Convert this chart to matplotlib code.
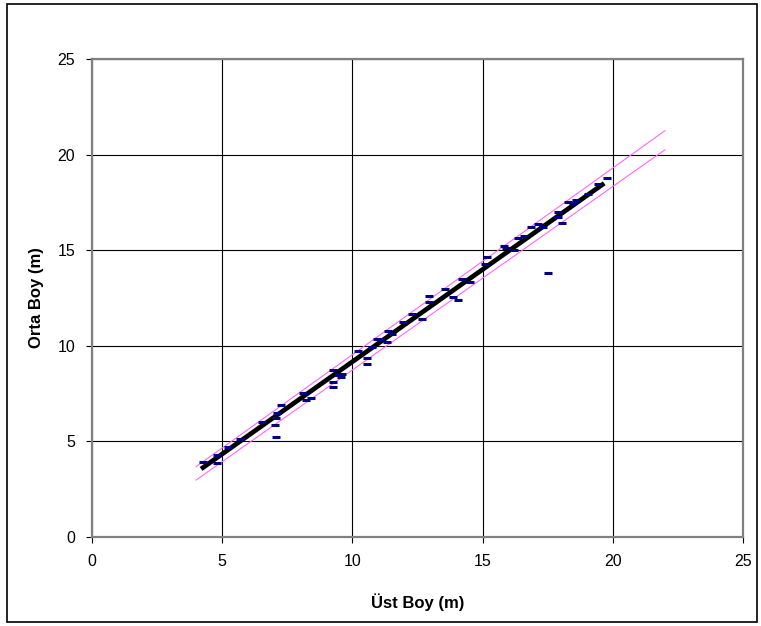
import matplotlib
matplotlib.use("Agg")
import matplotlib.pyplot as plt
from matplotlib.patches import Rectangle

plt.rcParams['font.family'] = ['Liberation Sans', 'DejaVu Sans']

# measured points (Üst Boy, Orta Boy)
ust_boy = [4.27, 4.81, 4.79, 5.21, 5.68, 6.52, 7.09, 7.05, 7.03, 7.07,
           7.26, 8.12, 8.20, 8.41, 9.27, 9.24, 9.24, 9.46, 9.59, 9.56,
           10.20, 10.55, 10.55, 10.74, 10.93, 11.06, 11.32, 11.38, 11.51, 11.96,
           12.28, 12.69, 12.94, 12.94, 13.56, 13.88, 14.04, 14.20, 14.52, 15.16,
           15.09, 15.82, 15.90, 16.22, 16.37, 16.60, 16.86, 17.14, 17.33, 17.52,
           17.88, 18.06, 17.88, 18.29, 18.48, 18.60, 19.06, 19.42, 19.76]
orta_boy = [3.91, 3.85, 4.29, 4.69, 5.11, 6.03, 6.47, 6.21, 5.84, 5.23,
            6.90, 7.55, 7.17, 7.29, 8.73, 8.09, 7.83, 8.47, 8.53, 8.35,
            9.73, 9.38, 9.03, 9.95, 10.36, 10.38, 10.18, 10.79, 10.62, 11.23,
            11.66, 11.42, 12.60, 12.31, 12.95, 12.57, 12.40, 13.48, 13.35, 14.63,
            14.28, 15.24, 15.10, 15.01, 15.65, 15.76, 16.20, 16.35, 16.20, 13.79,
            17.01, 16.44, 16.75, 17.50, 17.45, 17.60, 17.92, 18.46, 18.76]

# regression line and band lines
reg_x = [4.19, 19.67]
reg_y = [3.56, 18.50]
band_x = [4.0, 22.0]
upper_y = [3.68, 21.25]
lower_y = [2.98, 20.25]

ticks = [0, 5, 10, 15, 20, 25]

fig = plt.figure(figsize=(7.61, 6.26), dpi=100)
ax = fig.add_axes([92 / 761, 1 - 537 / 626, 651 / 761, 478 / 626])

ax.plot(band_x, upper_y, color='#ff66ff', lw=0.8, zorder=3)
ax.plot(band_x, lower_y, color='#ff66ff', lw=0.8, zorder=3)
ax.plot(reg_x, reg_y, color='black', lw=3.4, zorder=4, solid_capstyle='butt')
ax.plot(ust_boy, orta_boy, ls='none', marker='_', ms=5.5, mew=2.2,
        color='#000080', zorder=5)

ax.set_xlim(0, 25)
ax.set_ylim(0, 25)
ax.set_xticks(ticks)
ax.set_yticks(ticks)
ax.grid(True, color='black', lw=0.8)
ax.set_axisbelow(True)
for s in ax.spines.values():
    s.set_color('#808080')
    s.set_linewidth(1.6)
ax.tick_params(direction='out', length=4, width=0.8, labelsize=11.5, pad=8,
               color='black')

ax.set_xlabel('Üst Boy (m)', fontsize=12, fontweight='bold', labelpad=18)
ax.set_ylabel('Orta Boy (m)', fontsize=12, fontweight='bold', labelpad=10)

fig.patches.append(Rectangle((7 / 761, 4 / 626), 750 / 761, 618 / 626,
                             transform=fig.transFigure, fill=False,
                             edgecolor='black', lw=1.2))

fig.savefig('out.png', dpi=100)
